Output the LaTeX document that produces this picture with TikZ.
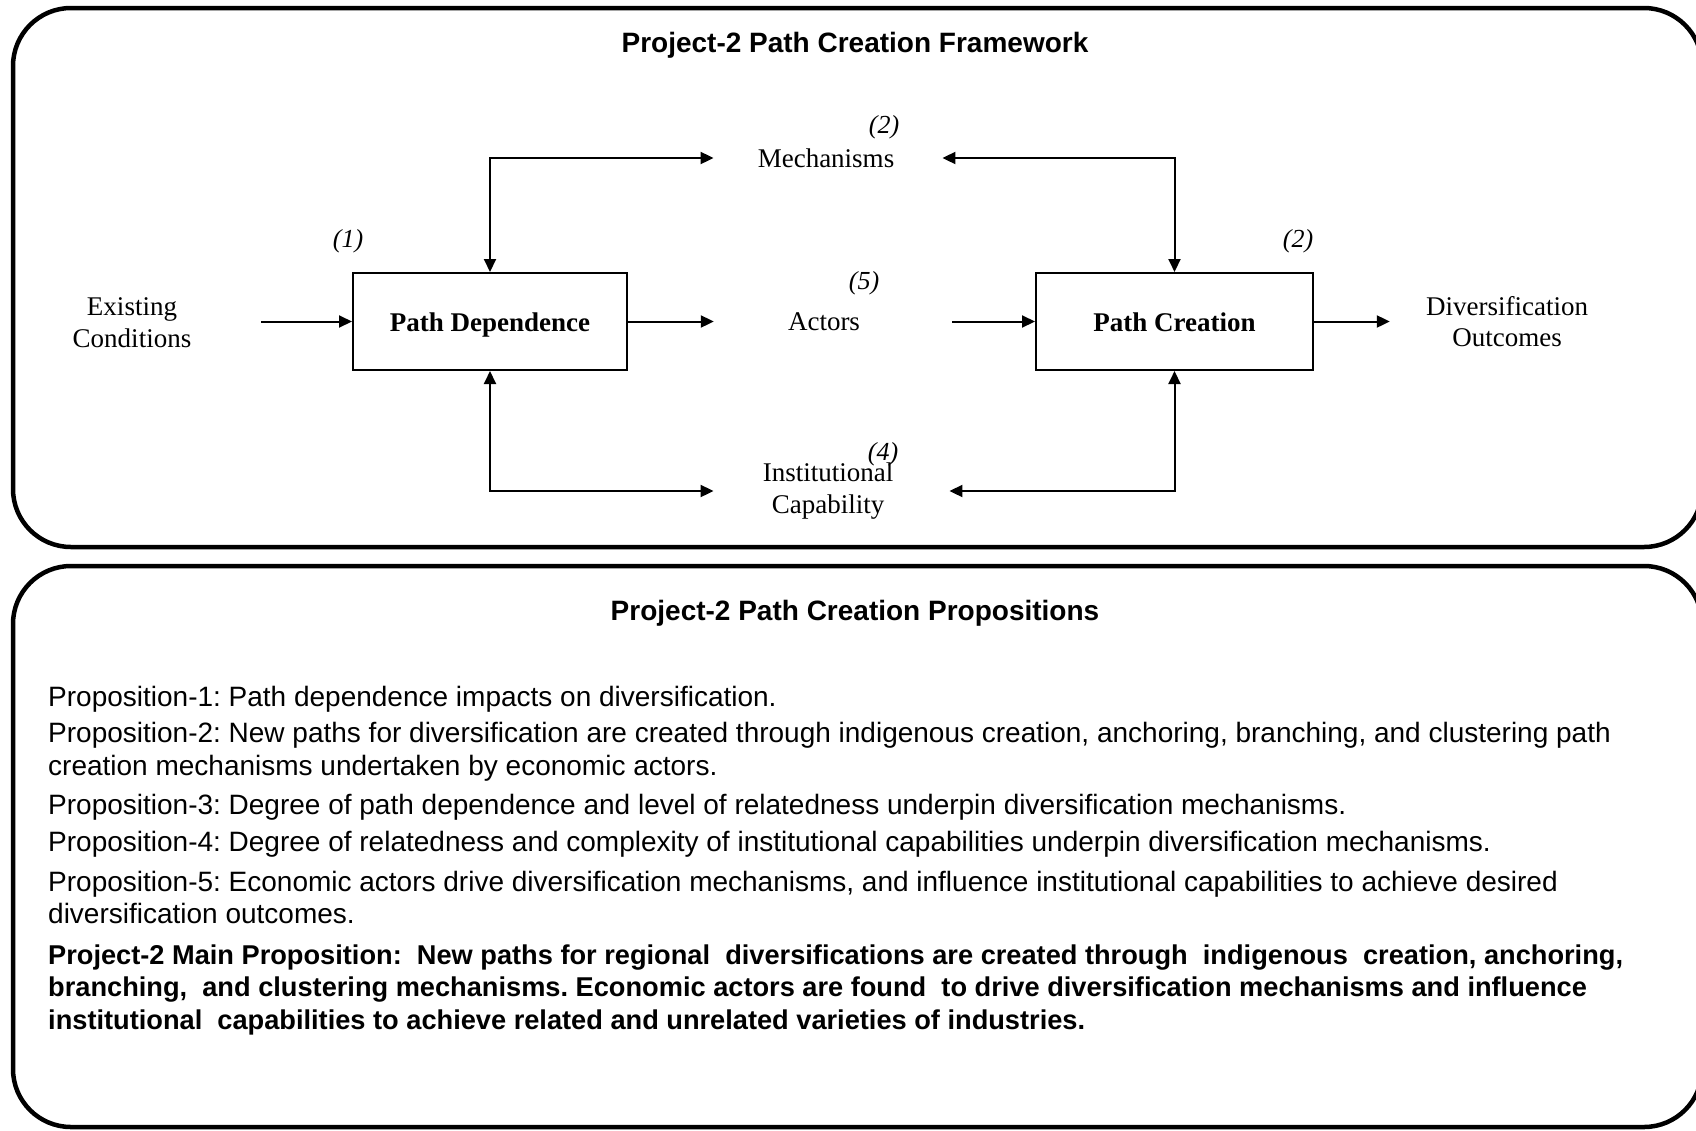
\documentclass[tikz,border=0pt]{standalone}
\usepackage{fontspec}
\setmainfont{Liberation Serif}
\setsansfont{Liberation Sans}
\usetikzlibrary{arrows.meta}
\frenchspacing
\begin{document}
\begin{tikzpicture}[x=1pt,y=-1pt,
  panel/.style={line width=4.5pt, rounded corners=58pt},
  stage/.style={draw, line width=2pt, minimum width=274pt, minimum height=97pt,
    text height=21pt, text depth=2pt,
    font=\fontsize{27}{32}\selectfont\bfseries, inner sep=0pt},
  term/.style={font=\fontsize{27}{31.5}\selectfont, align=center, inner sep=0pt},
  tag/.style={font=\fontsize{26}{30}\selectfont\itshape, inner sep=0pt},
  heading/.style={font=\fontsize{28}{32}\selectfont\sffamily\bfseries, inner sep=0pt},
  % multi-line text: the base anchor sits on the last line
  prop/.style={font=\fontsize{28}{32.4}\selectfont\sffamily, align=left,
    anchor=base west, inner sep=0pt},
  mainprop/.style={prop, font=\fontsize{27.2}{32.4}\selectfont\sffamily\bfseries},
  tip/.tip={Triangle[length=13pt,width=12pt]},
  link/.style={line width=2pt, -tip},
  twoway/.style={line width=2pt, tip-tip},
]
\useasboundingbox (0,0) rectangle (1696,1130);

% framing panels
\draw[panel] (13,8) rectangle (1702,547);
\draw[panel] (13,566) rectangle (1702,1127);

% framework
\node[heading] (ttl1) at (855,45) {Project-2 Path Creation Framework};

\node[stage] (pd) at (490,321.5) {Path Dependence};
\node[stage, minimum width=277pt] (pc) at (1174.5,321.5) {Path Creation};

\node[term] (exist) at (132,322.5) {Existing\\Conditions};
\node[term] (act) at (824,322) {Actors};
\node[term] (mech) at (826,158) {Mechanisms};
\node[term] (div) at (1507,321.5) {Diversification\\Outcomes};
\node[term] (inst) at (828,491) {Institutional\\Capability};

\node[tag] (n1) at (348,241) {(1)};
\node[tag] (n2a) at (884,127) {(2)};
\node[tag] (n2b) at (1298,241) {(2)};
\node[tag] (n5) at (864,283) {(5)};
\node[tag] (n4) at (883,454) {(4)};

\draw[link, shorten <=70pt] (exist.east |- pd.west) -- (pd.west);
\draw[link, shorten >=74pt] (pd.east) -- (act.west |- pd.east);
\draw[link, shorten <=92pt] (act.east |- pc.west) -- (pc.west);
\draw[link, shorten >=36pt] (pc.east) -- (div.west);

\draw[twoway, shorten <=44pt] (mech.west) -| (pd.north);
\draw[twoway, shorten <=48pt] (mech.east) -| (pc.north);
\draw[twoway, shorten <=49pt] (inst.west) -| (pd.south);
\draw[twoway, shorten <=56pt] (inst.east) -| (pc.south);

% propositions
\node[heading] (ttl2) at (855,613) {Project-2 Path Creation Propositions};

\node[prop] (p1) at (48,706) {Proposition-1: Path dependence impacts on diversification.};
\node[prop] (p2) at (48,775.2) {Proposition-2: New paths for diversification are created through indigenous creation, anchoring, branching, and clustering path\\creation mechanisms undertaken by economic actors.};
\node[prop] (p3) at (48,814.2) {Proposition-3: Degree of path dependence and level of relatedness underpin diversification mechanisms.};
\node[prop] (p4) at (48,851) {Proposition-4: Degree of relatedness and complexity of institutional capabilities underpin diversification mechanisms.};
\node[prop] (p5) at (48,923.4) {Proposition-5: Economic actors drive diversification mechanisms, and influence institutional capabilities to achieve desired\\diversification outcomes.};
\node[mainprop] (pm) at (48,1029.2) {Project-2 Main Proposition:~ New paths for regional~ diversifications are created through~ indigenous~ creation, anchoring,\\branching,~ and clustering mechanisms. Economic actors are found~ to drive diversification mechanisms and influence\\institutional~ capabilities to achieve related and unrelated varieties of industries.};
\end{tikzpicture}
\end{document}
